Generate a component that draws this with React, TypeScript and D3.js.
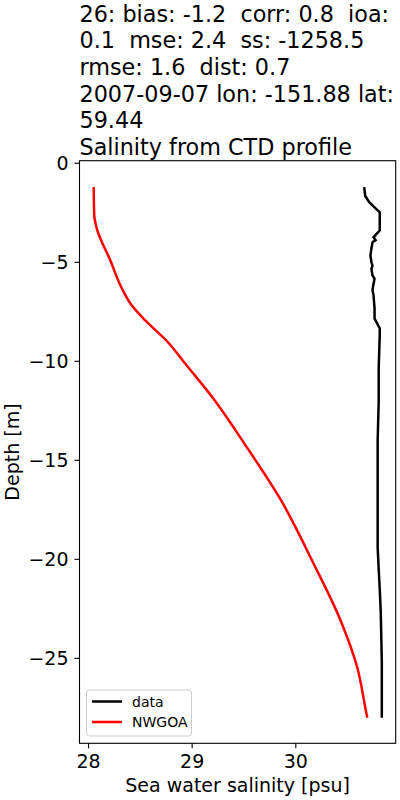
import React from "react";
import * as d3 from "d3";

const titleLines = [
  "26: bias: -1.2  corr: 0.8  ioa:",
  "0.1  mse: 2.4  ss: -1258.5",
  "rmse: 1.6  dist: 0.7",
  "2007-09-07 lon: -151.88 lat:",
  "59.44",
  "Salinity from CTD profile",
];

const xTicks = [28, 29, 30];
const yTicks = [0, -5, -10, -15, -20, -25];

// observed CTD profile (salinity, depth)
const dataSal = [30.66, 30.67, 30.71, 30.76, 30.81, 30.81, 30.77, 30.75, 30.77, 30.74, 30.73, 30.72, 30.73, 30.74, 30.73, 30.74, 30.76, 30.75, 30.74, 30.75, 30.76, 30.76, 30.81, 30.81, 30.80, 30.80, 30.79, 30.79, 30.79, 30.79, 30.80, 30.81, 30.82, 30.83, 30.83, 30.83];
const dataDepth = [-1.2, -1.65, -1.98, -2.23, -2.48, -3.4, -3.62, -3.74, -3.88, -3.99, -4.3, -4.66, -5.0, -5.16, -5.33, -5.66, -5.83, -6.08, -6.4, -6.67, -7.33, -7.84, -8.34, -8.67, -10.35, -12.0, -14.0, -16.0, -18.0, -19.4, -20.5, -21.5, -22.7, -25.2, -27.0, -28.0];

// model NWGOA profile
const modelSal = [28.05, 28.055, 28.08, 28.21, 28.32, 28.42, 28.56, 28.76, 28.93, 29.2, 29.53, 29.85, 30.17, 30.43, 30.59, 30.68, 30.69];
const modelDepth = [-1.2, -2.6, -3.3, -4.9, -6.3, -7.2, -8.0, -9.0, -10.1, -11.85, -14.36, -16.95, -20.2, -23.06, -25.4, -27.74, -28.0];

const W = 400;
const H = 800;
const L = 79.5, R = 395.7, T = 160.7, B = 743.3;
const FONT = "DejaVu Sans, sans-serif";

export default function App() {
  const x = d3.scaleLinear().domain([27.913, 30.964]).range([L, R]);
  const y = d3.scaleLinear().domain([-29.29, 0.13]).range([B, T]);
  const modelLine = d3
    .line<[number, number]>()
    .x((d) => x(d[0]))
    .y((d) => y(d[1]))
    .curve(d3.curveMonotoneY);
  const dataLine = d3
    .line<[number, number]>()
    .x((d) => x(d[0]))
    .y((d) => y(d[1]));
  const dataPts = dataSal.map((s, i) => [s, dataDepth[i]] as [number, number]);
  const modelPts = modelSal.map((s, i) => [s, modelDepth[i]] as [number, number]);

  return (
    <svg
      width={W}
      height={H}
      style={{ position: "absolute", left: 0, top: 0, background: "#fff" }}
      fontFamily={FONT}
    >
      <rect x={0} y={0} width={W} height={H} fill="#fff" />
      {titleLines.map((t, i) => (
        <text key={i} x={L} y={21.7 + i * 26.67} fontSize={22.3} fill="#000" style={{ whiteSpace: "pre" }}>
          {t}
        </text>
      ))}
      <path d={modelLine(modelPts) || ""} fill="none" stroke="red" strokeWidth={2.5} />
      <path d={dataLine(dataPts) || ""} fill="none" stroke="#000" strokeWidth={2.5} />
      <rect x={L} y={T} width={R - L} height={B - T} fill="none" stroke="#000" strokeWidth={1.1} />
      {xTicks.map((t) => (
        <g key={t}>
          <line x1={x(t)} x2={x(t)} y1={B} y2={B + 5} stroke="#000" strokeWidth={1.1} />
          <text x={x(t)} y={B + 25} fontSize={19} textAnchor="middle" fill="#000">
            {t}
          </text>
        </g>
      ))}
      {yTicks.map((t) => (
        <g key={t}>
          <line x1={L - 5} x2={L} y1={y(t)} y2={y(t)} stroke="#000" strokeWidth={1.1} />
          <text x={L - 11} y={y(t) + 7} fontSize={19} textAnchor="end" fill="#000">
            {t === 0 ? "0" : "\u2212" + Math.abs(t)}
          </text>
        </g>
      ))}
      <text x={(L + R) / 2} y={792} fontSize={19} textAnchor="middle" fill="#000">
        Sea water salinity [psu]
      </text>
      <text
        transform={`translate(${19},${(T + B) / 2}) rotate(-90)`}
        fontSize={19}
        textAnchor="middle"
        fill="#000"
      >
        Depth [m]
      </text>
      <g>
        <rect x={86.5} y={690} width={105} height={46} rx={3} fill="#fff" fillOpacity={0.8} stroke="#ccc" strokeWidth={1} />
        <line x1={92} x2={122} y1={701.5} y2={701.5} stroke="#000" strokeWidth={2.5} />
        <text x={132} y={706.5} fontSize={14} fill="#000">data</text>
        <line x1={92} x2={122} y1={722} y2={722} stroke="red" strokeWidth={2.5} />
        <text x={132} y={727} fontSize={14} fill="#000">NWGOA</text>
      </g>
    </svg>
  );
}
